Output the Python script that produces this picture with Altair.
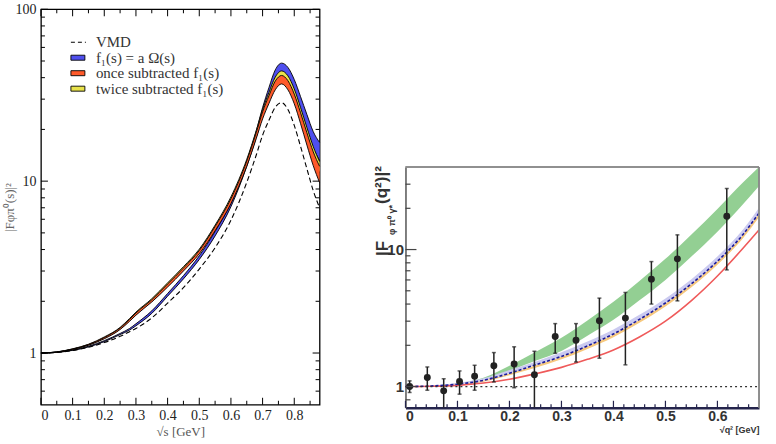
import altair as alt
import pandas as pd

SERIF = "Liberation Serif"
SANS = "Liberation Sans"

# ---------------- left panel: |F_{phi pi0}(s)|^2 ----------------
sqrt_s = [0.0, 0.05, 0.10, 0.15, 0.20, 0.25, 0.28, 0.30, 0.35, 0.40, 0.45, 0.50, 0.55,
          0.60, 0.65, 0.68, 0.70, 0.72, 0.74, 0.76, 0.78, 0.80, 0.82, 0.84, 0.86, 0.88]
vmd = [1.0, 1.008, 1.035, 1.08, 1.15, 1.25, 1.33, 1.39, 1.60, 1.95, 2.40, 3.08, 4.10,
       5.92, 9.84, 14.2, 18.5, 22.6, 26.9, 28.6, 26.1, 21.1, 15.9, 11.8, 8.8, 7.0]
omnes_lo = [1.0, 1.008, 1.036, 1.085, 1.165, 1.28, 1.36, 1.44, 1.70, 2.14, 2.70, 3.50, 4.80,
            7.1, 12.2, 18.0, 24.2, 31.2, 39.0, 42.5, 40.0, 33.5, 26.0, 20.0, 15.6, 13.2]
omnes_hi = [1.0, 1.010, 1.040, 1.095, 1.180, 1.30, 1.39, 1.48, 1.76, 2.22, 2.82, 3.68, 5.10,
            7.5, 13.0, 19.6, 26.8, 35.0, 44.4, 48.6, 45.9, 39.0, 31.0, 24.4, 19.4, 16.8]
once_lo = [1.0, 1.012, 1.050, 1.110, 1.21, 1.37, 1.53, 1.66, 1.98, 2.42, 3.00, 3.78, 5.15,
           7.4, 12.2, 17.7, 23.0, 28.3, 34.0, 36.8, 34.0, 28.2, 21.6, 16.2, 12.3, 9.8]
once_hi = [1.0, 1.014, 1.055, 1.120, 1.23, 1.40, 1.57, 1.71, 2.04, 2.52, 3.12, 3.95, 5.45,
           7.9, 13.1, 19.2, 25.3, 31.4, 38.2, 41.2, 38.4, 32.1, 25.0, 19.1, 14.8, 12.2]
twice_lo = [1.0, 1.013, 1.052, 1.115, 1.22, 1.38, 1.55, 1.68, 2.00, 2.45, 3.04, 3.84, 5.25,
            7.55, 12.6, 18.4, 24.2, 30.2, 36.8, 39.6, 36.8, 30.6, 23.6, 17.9, 13.8, 11.2]
twice_hi = [1.0, 1.015, 1.058, 1.125, 1.24, 1.41, 1.59, 1.73, 2.07, 2.56, 3.18, 4.02, 5.55,
            8.1, 13.4, 19.7, 26.1, 32.8, 40.3, 43.8, 41.0, 34.4, 26.8, 20.5, 15.9, 13.0]

left_x_major = [0.0, 0.1, 0.2, 0.3, 0.4, 0.5, 0.6, 0.7, 0.8]
left_x_minor = [0.05, 0.15, 0.25, 0.35, 0.45, 0.55, 0.65, 0.75, 0.85]
left_y_major = [1, 10, 100]
left_y_minor = [0.6, 0.7, 0.8, 0.9, 2, 3, 4, 5, 6, 7, 8, 9, 20, 30, 40, 50, 60, 70, 80, 90]

legend_labels = ["VMD", "f\u2081(s) = a \u03a9(s)", "once subtracted f\u2081(s)", "twice subtracted f\u2081(s)"]

# ---------------- right panel: |F_{phi pi0 gamma*}(q^2)|^2 ----------------
q_data = [0.008, 0.042, 0.0735, 0.104, 0.133, 0.170, 0.209, 0.248, 0.288, 0.328,
          0.373, 0.423, 0.473, 0.523, 0.618]
F_data = [1.00, 1.163, 0.93, 1.087, 1.19, 1.42, 1.46, 1.22, 2.32, 2.18,
          3.02, 3.16, 6.08, 8.55, 17.5]
F_err_hi = [1.10, 1.39, 1.14, 1.30, 1.43, 1.77, 1.95, 1.81, 2.88, 2.88,
            4.42, 4.86, 8.17, 12.8, 27.9]
F_err_lo = [0.905, 0.94, 0.70, 0.88, 0.94, 1.08, 0.98, 0.70, 1.75, 1.51,
            1.61, 1.44, 4.0, 4.22, 7.1]

q_grid = [0.0, 0.05, 0.10, 0.15, 0.20, 0.25, 0.30, 0.35, 0.40, 0.45, 0.50, 0.55, 0.60, 0.65, 0.68]
green_lo = [1.0, 1.010, 1.045, 1.12, 1.30, 1.54, 1.82, 2.35, 3.07, 4.26, 6.0, 8.9, 13.5, 21.6, 29.1]
green_hi = [1.0, 1.012, 1.055, 1.16, 1.42, 1.79, 2.27, 3.04, 4.15, 5.90, 8.55, 12.9, 19.8, 31.1, 40.0]
dash_curve = [1.0, 1.01, 1.04, 1.11, 1.25, 1.44, 1.66, 1.98, 2.42, 3.09, 4.07, 5.62, 8.22, 13.0, 18.5]
lav_lo = [1.0, 1.008, 1.035, 1.105, 1.245, 1.43, 1.65, 1.97, 2.41, 3.07, 4.04, 5.58, 8.15, 12.9, 18.3]
lav_hi = [1.0, 1.015, 1.06, 1.15, 1.32, 1.52, 1.78, 2.13, 2.61, 3.34, 4.40, 6.08, 8.90, 14.1, 20.2]
orange_lo = [1.0, 1.004, 1.025, 1.085, 1.21, 1.37, 1.58, 1.88, 2.29, 2.92, 3.84, 5.30, 7.75, 12.2, 17.2]
orange_hi = [1.0, 1.01, 1.04, 1.105, 1.245, 1.43, 1.65, 1.97, 2.40, 3.06, 4.03, 5.57, 8.14, 12.9, 18.3]
red_curve = [1.0, 1.005, 1.02, 1.06, 1.13, 1.24, 1.38, 1.58, 1.85, 2.30, 3.00, 4.24, 6.41, 10.3, 13.9]
unity_x = [0.0, 0.68]
unity_y = [1.0, 1.0]

right_x_major = [0.0, 0.1, 0.2, 0.3, 0.4, 0.5, 0.6]
right_x_minor = [0.02, 0.04, 0.06, 0.08, 0.12, 0.14, 0.16, 0.18, 0.22, 0.24, 0.26, 0.28,
                 0.32, 0.34, 0.36, 0.38, 0.42, 0.44, 0.46, 0.48, 0.52, 0.54, 0.56, 0.58,
                 0.62, 0.64, 0.66]
right_y_major = [1, 10]
right_y_minor = [0.8, 2, 3, 4, 5, 6, 7, 8, 9, 20, 30]

# ---------------- geometry ----------------
LW, LH = 279, 396
RW, RH = 354, 399
R_TOP = 158
SMOOTH = "monotone"

label_expr = "datum.value == 0 ? '0' : format(datum.value, '.1f')"

# ================= left panel =================
lx = alt.Scale(domain=[0, 0.88], nice=False, zero=False)
ly = alt.Scale(type="log", domain=[0.5, 100], nice=False)
lx_axis = alt.Axis(values=left_x_major, labelExpr=label_expr, ticks=False, domain=False, grid=False,
                   labelFont=SERIF, labelFontSize=14, labelColor="#222", labelPadding=4,
                   title="\u221as [GeV]", titleFont=SERIF, titleFontSize=13,
                   titleFontWeight="normal", titleColor="#555", titlePadding=3)
ly_axis = alt.Axis(values=left_y_major, format="~g", ticks=False, domain=False, grid=False,
                   labelFont=SERIF, labelFontSize=14, labelColor="#222", labelPadding=5,
                   title="|F\u03c6\u03c0\u2070(s)|\u00b2", titleFont=SERIF, titleFontSize=13,
                   titleFontWeight="normal", titleColor="#666", titleX=-31, titleY=LH / 2,
                   titleBaseline="middle")


def X(field):
    return alt.X(field, type="quantitative", scale=lx, axis=lx_axis)


def Y(field):
    return alt.Y(field, type="quantitative", scale=ly, axis=ly_axis)


def band(lo, hi, color):
    df = pd.DataFrame({"s": sqrt_s, "lo": lo, "hi": hi})
    base = alt.Chart(df)
    fill = base.mark_area(color=color, opacity=1, interpolate=SMOOTH).encode(
        x=X("s"), y=Y("lo"), y2="hi")
    edge_lo = base.mark_line(color="black", strokeWidth=0.9, interpolate=SMOOTH).encode(
        x=X("s"), y=Y("lo"))
    edge_hi = base.mark_line(color="black", strokeWidth=0.9, interpolate=SMOOTH).encode(
        x=X("s"), y=Y("hi"))
    return [fill, edge_lo, edge_hi]


BLUE = "#4f4fee"
RED = "#ff5a2a"
YELLOW = "#e8e24a"

left_layers = []
left_layers += band(omnes_lo, omnes_hi, BLUE)
left_layers += band(twice_lo, twice_hi, YELLOW)
left_layers += band(once_lo, once_hi, RED)

vmd_df = pd.DataFrame({"s": sqrt_s, "F": vmd})
left_layers.append(
    alt.Chart(vmd_df).mark_line(color="black", strokeWidth=1.1, strokeDash=[5, 3], interpolate=SMOOTH)
    .encode(x=X("s"), y=Y("F"))
)


def ticks_x(values, scale, axis, y0, y1, color, width=1.0):
    return alt.Chart(pd.DataFrame({"t": values})).mark_rule(color=color, strokeWidth=width).encode(
        x=alt.X("t", type="quantitative", scale=scale, axis=axis),
        y=alt.value(y0), y2=alt.value(y1))


def ticks_y(values, scale, axis, x0, x1, color, width=1.0):
    return alt.Chart(pd.DataFrame({"t": values})).mark_rule(color=color, strokeWidth=width).encode(
        y=alt.Y("t", type="quantitative", scale=scale, axis=axis),
        x=alt.value(x0), x2=alt.value(x1))


# inward ticks on all four sides of the left frame
left_layers += [
    ticks_x(left_x_major, lx, lx_axis, LH, LH - 7, "black"),
    ticks_x(left_x_minor, lx, lx_axis, LH, LH - 4, "black"),
    ticks_x(left_x_major, lx, lx_axis, 0, 7, "black"),
    ticks_x(left_x_minor, lx, lx_axis, 0, 4, "black"),
    ticks_y(left_y_major, ly, ly_axis, 0, 7, "black"),
    ticks_y(left_y_minor, ly, ly_axis, 0, 4, "black"),
    ticks_y(left_y_major, ly, ly_axis, LW, LW - 7, "black"),
    ticks_y(left_y_minor, ly, ly_axis, LW, LW - 4, "black"),
]

# legend block in the upper left corner
leg_rows = [33, 48.5, 64, 79.5]
leg_src = [pd.DataFrame({"label": [t]}) for t in legend_labels]
left_layers.append(
    alt.Chart(leg_src[0]).mark_rule(color="black", strokeWidth=1.2, strokeDash=[4, 3])
    .encode(x=alt.value(30), x2=alt.value(45), y=alt.value(leg_rows[0]))
)
for src, row, col in zip(leg_src[1:], leg_rows[1:], [BLUE, RED, YELLOW]):
    left_layers.append(
        alt.Chart(src).mark_rect(color=col, stroke="black", strokeWidth=0.9)
        .encode(x=alt.value(30), x2=alt.value(44), y=alt.value(row - 2.5), y2=alt.value(row + 2.5))
    )
for src, row in zip(leg_src, leg_rows):
    left_layers.append(
        alt.Chart(src).mark_text(align="left", baseline="middle", font=SERIF, fontSize=15, color="#333")
        .encode(x=alt.value(55), y=alt.value(row), text="label:N")
    )

left = alt.layer(*left_layers).properties(
    width=LW, height=LH, view=alt.ViewBackground(stroke="black", strokeWidth=1.3)
)

# ================= right panel =================
rx = alt.Scale(domain=[0, 0.68], nice=False, zero=False)
ry = alt.Scale(type="log", domain=[0.7, 40], nice=False, range=[RH, R_TOP])
rx_axis = alt.Axis(values=right_x_major, labelExpr=label_expr, ticks=False, grid=False,
                   domain=True, domainColor="#24244c", domainWidth=2.5,
                   labelFont=SANS, labelFontWeight="bold", labelFontSize=14, labelColor="#333",
                   labelPadding=2, title="\u221aq\u00b2  [GeV]", titleFont=SANS, titleFontSize=9,
                   titleFontWeight="bold", titleColor="#333", titleAnchor="end", titleAlign="right",
                   titlePadding=2)
ry_axis = alt.Axis(values=right_y_major, format="~g", ticks=False, grid=False,
                   domain=True, domainColor="#555", domainWidth=1.5,
                   labelFont=SANS, labelFontWeight="bold", labelFontSize=15, labelColor="#333",
                   labelPadding=2, title=None)


def RX(field):
    return alt.X(field, type="quantitative", scale=rx, axis=rx_axis)


def RY(field):
    return alt.Y(field, type="quantitative", scale=ry, axis=ry_axis)


curves = pd.DataFrame({
    "q": q_grid, "g_lo": green_lo, "g_hi": green_hi, "l_lo": lav_lo, "l_hi": lav_hi,
    "o_lo": orange_lo, "o_hi": orange_hi, "dash": dash_curve, "red": red_curve,
})
points = pd.DataFrame({"q": q_data, "F": F_data, "hi": F_err_hi, "lo": F_err_lo})
unity = pd.DataFrame({"q": unity_x, "F": unity_y})
cb = alt.Chart(curves)
pb = alt.Chart(points)

right_layers = [
    cb.mark_area(color="#93cf93", opacity=1, interpolate=SMOOTH).encode(x=RX("q"), y=RY("g_lo"), y2="g_hi"),
    cb.mark_area(color="#f6c87e", opacity=1, interpolate=SMOOTH).encode(x=RX("q"), y=RY("o_lo"), y2="o_hi"),
    cb.mark_area(color="#cbcaf0", opacity=1, interpolate=SMOOTH).encode(x=RX("q"), y=RY("l_lo"), y2="l_hi"),
    cb.mark_line(color="#ef5a5a", strokeWidth=1.6, interpolate=SMOOTH).encode(x=RX("q"), y=RY("red")),
    cb.mark_line(color="#1b1b9a", strokeWidth=1.6, strokeDash=[3, 2], interpolate=SMOOTH)
    .encode(x=RX("q"), y=RY("dash")),
    alt.Chart(unity).mark_line(color="#333", strokeWidth=1.3, strokeDash=[2, 3])
    .encode(x=RX("q"), y=RY("F")),
    pb.mark_rule(color="#222", strokeWidth=1.5, clip=True).encode(x=RX("q"), y=RY("lo"), y2="hi"),
    pb.mark_tick(color="#222", orient="horizontal", size=4, thickness=1.5).encode(x=RX("q"), y=RY("hi")),
    pb.transform_filter("datum.lo > 0.7")
    .mark_tick(color="#222", orient="horizontal", size=4, thickness=1.5).encode(x=RX("q"), y=RY("lo")),
    pb.mark_circle(color="#222", size=48, opacity=1).encode(x=RX("q"), y=RY("F")),
    # inward ticks on bottom and left axes
    ticks_x(right_x_major, rx, rx_axis, RH, RH - 7, "#24244c", 1.2),
    ticks_x(right_x_minor, rx, rx_axis, RH, RH - 3.5, "#24244c", 1.2),
    ticks_y(right_y_major, ry, ry_axis, 0, 11, "#444", 1.2),
    ticks_y(right_y_minor, ry, ry_axis, 0, 5, "#444", 1.2),
    # grey frame on top and right
    alt.Chart(unity).mark_rule(color="#888", strokeWidth=1.5)
    .encode(x=alt.datum(0), x2=alt.datum(0.68), y=alt.datum(40)),
    alt.Chart(unity).mark_rule(color="#888", strokeWidth=1.5)
    .encode(x=alt.datum(0.68), y=alt.datum(0.7), y2=alt.datum(40)),
]

# rotated y-axis title built from its three pieces
title_parts = [("|F", 17, -23, 239.5), ("\u03c6 \u03c0\u2070 \u03b3*", 9, -13, 211), ("(q\u00b2)|\u00b2", 17, -23.5, 176)]
for txt, size, px, py in title_parts:
    right_layers.append(
        alt.Chart(pd.DataFrame({"t": [txt]})).mark_text(
            angle=270, align="center", baseline="middle", font=SANS, fontWeight="bold",
            fontSize=size, color="#333")
        .encode(x=alt.value(px), y=alt.value(py), text="t:N")
    )

right = alt.layer(*right_layers).properties(
    width=RW, height=RH, view=alt.ViewBackground(strokeOpacity=0)
)

chart = alt.hconcat(left, right, spacing=86, bounds="flush").properties(
    padding={"left": 3, "right": 13, "top": 1, "bottom": 5},
    background="white",
)

chart.save("out.html", embed_options={"renderer": "svg", "actions": False})
